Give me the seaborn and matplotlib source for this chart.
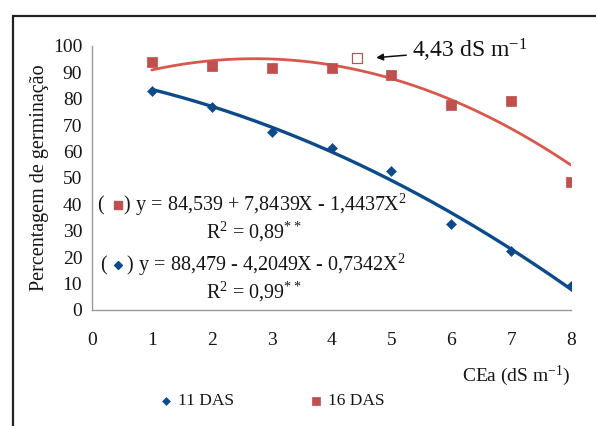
import numpy as np
import pandas as pd
import matplotlib
matplotlib.use("Agg")
import matplotlib.pyplot as plt
import seaborn as sns

# Data
cea = [1, 2, 3, 4, 5, 6, 7, 8]
das11 = [83.0, 77.0, 67.5, 61.5, 52.5, 32.5, 22.5, 9.0]
das16 = [94.0, 92.5, 91.5, 91.5, 89.0, 77.5, 79.0, 48.5]
coef16 = [84.539, 7.8439, -1.4437]
coef11 = [88.479, -4.2049, -0.7342]
opt_x = [4.43]
opt_y = [95.5]
yticks = [0, 10, 20, 30, 40, 50, 60, 70, 80, 90, 100]
xticks = [0, 1, 2, 3, 4, 5, 6, 7, 8]

blue = "#0d4a8c"
red_m = "#c0504d"
red_l = "#d9574c"
txt = "#151515"

sns.set_theme(style="white")
plt.rcParams['font.family'] = ['Liberation Serif', 'DejaVu Serif']
plt.rcParams['mathtext.fontset'] = 'custom'
plt.rcParams['mathtext.rm'] = 'Liberation Serif'
plt.rcParams['mathtext.it'] = 'Liberation Serif:italic'
plt.rcParams['mathtext.bf'] = 'Liberation Serif:bold'

fig = plt.figure(figsize=(5.96, 4.26), dpi=100)
ax = fig.add_axes([92/596, 1-310/426, (571-92)/596, (310-46)/426])

# outer frame (top & left visible, rest off-canvas)
fig.add_artist(plt.Rectangle((13/596, -0.1), 1.2, 1-16/426+0.1, transform=fig.transFigure,
                             fill=False, edgecolor="#222222", lw=1.6))

xs = np.linspace(1, 8, 200)
c16 = pd.DataFrame({"x": xs, "y": coef16[0] + coef16[1]*xs + coef16[2]*xs**2})
c11 = pd.DataFrame({"x": xs, "y": coef11[0] + coef11[1]*xs + coef11[2]*xs**2})
sns.lineplot(data=c16, x="x", y="y", ax=ax, color=red_l, lw=2.0)
sns.lineplot(data=c11, x="x", y="y", ax=ax, color=blue, lw=2.4)

df = pd.DataFrame({"x": cea, "a": das11, "b": das16})
sns.scatterplot(data=df, x="x", y="a", ax=ax, marker="D", s=26, color=blue, edgecolor=blue,
                label="11 DAS", zorder=5)
sns.scatterplot(data=df, x="x", y="b", ax=ax, marker="s", s=44, color=red_m, edgecolor=red_m,
                label="16 DAS", zorder=5)
ax.scatter(opt_x, opt_y, marker="s", s=44, facecolor="white", edgecolor="#a06060", lw=0.9, zorder=6)

ax.set_xlim(0, 8)
ax.set_ylim(0, 100)
ax.set_xticks(xticks)
ax.set_yticks(yticks)
ax.tick_params(axis="both", labelsize=14, colors=txt, length=5, width=0.8,
               direction="out", color="#999999")
ax.tick_params(axis="x", pad=11)
ax.tick_params(axis="y", pad=2)
for s in ["top", "right"]:
    ax.spines[s].set_visible(False)
for s in ["left", "bottom"]:
    ax.spines[s].set_color("#999999")
    ax.spines[s].set_linewidth(1.0)

ax.set_xlabel("")
ax.set_ylabel("Percentagem de germinação", fontsize=14.5, color=txt, labelpad=3)
fig.text(570/596, 1-376/426, "CEa (dS m$^{-1}$)", ha="right", va="center", fontsize=14,
         color=txt)

ax.annotate("4,43 dS m$^{-1}$", xy=(4.7, 95.5), xytext=(5.35, 98.5),
            fontsize=17, color="#111111", ha="left", va="center",
            arrowprops=dict(arrowstyle="-|>", color="#111111", lw=1.1, mutation_scale=10),
            annotation_clip=False)

eqfs = 14.5
ax.text(0.08, 39.8, "(    ) y = 84,539 + 7,8439X - 1,4437X$^{2}$", fontsize=eqfs,
        color=txt, ha="left", va="center")
ax.scatter([0.43], [39.8], marker="s", s=36, color=red_m, zorder=6)
ax.text(1.9, 29.5, "R$^{2}$ = 0,89$^{**}$", fontsize=eqfs, color=txt, ha="left", va="center")
ax.text(0.13, 17.0, "(    ) y = 88,479 - 4,2049X - 0,7342X$^{2}$", fontsize=eqfs,
        color=txt, ha="left", va="center")
ax.scatter([0.44], [17.0], marker="D", s=16, color=blue, zorder=6)
ax.text(1.9, 6.8, "R$^{2}$ = 0,99$^{**}$", fontsize=eqfs, color=txt, ha="left", va="center")

leg = ax.legend(loc="center", bbox_to_anchor=(0.375, -0.345), ncol=2, frameon=False,
                fontsize=12.5, handlelength=0.8, handletextpad=0.3, columnspacing=4.3,
                markerscale=0.8)
for t in leg.get_texts():
    t.set_color(txt)

fig.savefig("out.png", dpi=100, facecolor="white")
